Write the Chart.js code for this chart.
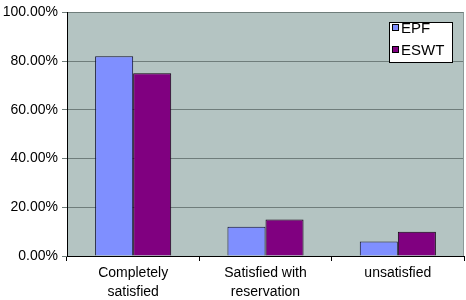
<!DOCTYPE html>
<html>
<head>
<meta charset="utf-8">
<style>
  html, body { margin: 0; padding: 0; background: #fff; }
  #wrap { width: 466px; height: 300px; }
</style>
<script src="https://cdn.jsdelivr.net/npm/chart.js@4/dist/chart.umd.min.js"></script>
</head>
<body>
<div id="wrap"><canvas id="chart" width="466" height="300"></canvas></div>
<script>
// categories (multi-line labels) and the two series, as fractions
const categories = [["Completely", "satisfied"], ["Satisfied with", "reservation"], ["unsatisfied"]];
const epf = [0.82, 0.12, 0.06];
const eswt = [0.75, 0.15, 0.10];
const yTicks = [0, 0.2, 0.4, 0.6, 0.8, 1.0];

const FONT = "'Liberation Sans', Arial, sans-serif";

// grey plot background + outline
const plotBg = {
  id: "plotBg",
  beforeDraw(chart) {
    const { ctx, chartArea: a } = chart;
    ctx.save();
    ctx.fillStyle = "#b4c4c2";
    ctx.fillRect(a.left, a.top, a.right - a.left, a.bottom - a.top);
    ctx.restore();
  },
  afterDraw(chart) {
    const { ctx, chartArea: a } = chart;
    ctx.save();
    ctx.strokeStyle = "#8c9998";
    ctx.lineWidth = 1;
    ctx.beginPath();
    ctx.moveTo(a.right - 0.5, a.top);
    ctx.lineTo(a.right - 0.5, a.bottom);
    ctx.stroke();
    ctx.restore();
  }
};

// boxed legend inside the plot, top right
const boxLegend = {
  id: "boxLegend",
  afterDraw(chart) {
    const { ctx } = chart;
    const x = 389.5, y = 22.5, w = 63, h = 40;
    ctx.save();
    ctx.fillStyle = "#fff";
    ctx.fillRect(x, y, w, h);
    ctx.strokeStyle = "#000";
    ctx.lineWidth = 1;
    ctx.strokeRect(x, y, w, h);
    ctx.font = "15px " + FONT;
    ctx.textBaseline = "middle";
    chart.data.datasets.forEach((ds, i) => {
      const cy = 28 + i * 22;
      ctx.fillStyle = ds.backgroundColor;
      ctx.fillRect(392.5, cy - 3.5, 6, 6);
      ctx.strokeStyle = "#000";
      ctx.strokeRect(392.5, cy - 3.5, 6, 6);
      ctx.fillStyle = "#000";
      ctx.fillText(ds.label, 401, cy + 1);
    });
    ctx.restore();
  }
};

new Chart(document.getElementById("chart"), {
  type: "bar",
  data: {
    labels: categories,
    datasets: [
      { label: "EPF", data: epf, backgroundColor: "#7f8fff", borderColor: "#101030", borderWidth: 1 },
      { label: "ESWT", data: eswt, backgroundColor: "#800080", borderColor: "#100010", borderWidth: 1 }
    ]
  },
  options: {
    responsive: false,
    animation: false,
    layout: { padding: { top: 8, right: 2, left: 0, bottom: 0 } },
    datasets: { bar: { categoryPercentage: 0.575, barPercentage: 1.0 } },
    plugins: { legend: { display: false }, tooltip: { enabled: false } },
    scales: {
      x: {
        afterFit: (s) => { s.height = 44; },
        grid: { drawOnChartArea: false, color: "#000", tickLength: 5, offset: true },
        border: { color: "#000" },
        ticks: { color: "#000", font: { family: FONT, size: 14, lineHeight: 1.35 }, padding: 3, maxRotation: 0 }
      },
      y: {
        min: 0, max: 1,
        afterFit: (s) => { s.width = 67; },
        afterBuildTicks: (s) => { s.ticks = yTicks.map((v) => ({ value: v })); },
        grid: { color: "#6f7d7b", tickLength: 5, drawTicks: true },
        border: { color: "#000" },
        ticks: {
          color: "#000", font: { family: FONT, size: 14 }, padding: 4,
          callback: (v) => (v * 100).toFixed(2) + "%"
        }
      }
    }
  },
  plugins: [plotBg, boxLegend]
});
</script>
</body>
</html>
